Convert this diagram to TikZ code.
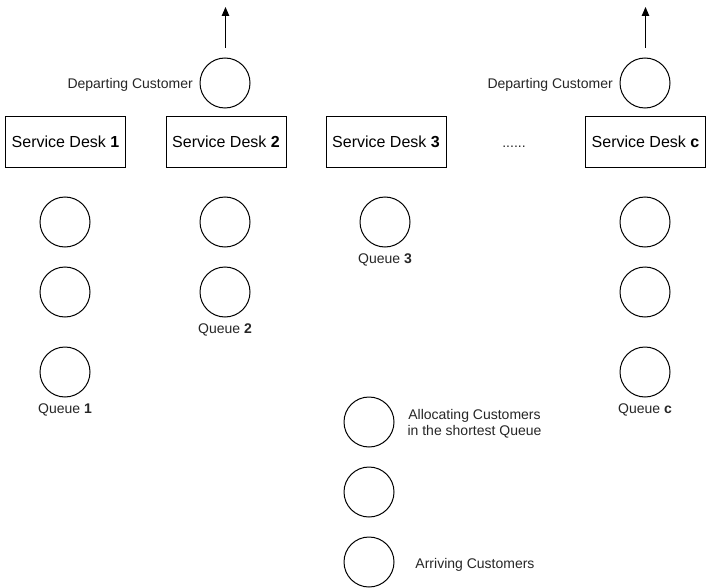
\documentclass[tikz,border=0pt]{standalone}
\usepackage{fontspec}
\setmainfont{Liberation Sans}
\usetikzlibrary{arrows.meta}
\begin{document}
\begin{tikzpicture}[x=1pt,y=-1pt,
  desk/.style={draw, line width=1pt, minimum width=120pt, minimum height=50pt, inner sep=0pt, font=\fontsize{16}{19}\selectfont},
  cust/.style={draw, circle, line width=1pt, minimum size=50pt, inner sep=0pt},
  lbl/.style={font=\fontsize{14}{16.5}\selectfont, inner sep=0pt, text=black!85, yshift=-1.5pt},
  arr/.style={line width=1pt, -{Triangle[length=9pt,width=7.5pt]}}]
\useasboundingbox (0,0) rectangle (711,588);
% desks
\node[desk] (d1) at (65.5,142) {Service Desk \textbf{1}};
\node[desk] (d2) at (226,142) {Service Desk \textbf{2}};
\node[desk] (d3) at (386,142) {Service Desk \textbf{3}};
\node[desk] (dc) at (645.5,142) {Service Desk \textbf{c}};
\node[lbl] (dots) at (514,145) {......};
% departing
\node[cust] (dep2) at (225,83) {};
\node[cust] (depc) at (645,83) {};
\node[lbl, anchor=east] (dl2) at (193,83) {Departing Customer};
\node[lbl, anchor=east] (dlc) at (613,83) {Departing Customer};
\coordinate (a2s) at (225.5,48);
\coordinate (a2e) at (225.5,7);
\coordinate (acs) at (645.5,48);
\coordinate (ace) at (645.5,7);
\draw[arr] (a2s) -- (a2e);
\draw[arr] (acs) -- (ace);
% queue 1
\node[cust] (q11) at (65,222) {};
\node[cust] (q12) at (65,292) {};
\node[cust] (q13) at (65,372) {};
\node[lbl] (ql1) at (65,408) {Queue \textbf{1}};
% queue 2
\node[cust] (q21) at (225,222) {};
\node[cust] (q22) at (225,292) {};
\node[lbl] (ql2) at (225,328) {Queue \textbf{2}};
% queue 3
\node[cust] (q31) at (385,222) {};
\node[lbl] (ql3) at (385,258) {Queue \textbf{3}};
% queue c
\node[cust] (qc1) at (645,222) {};
\node[cust] (qc2) at (645,292) {};
\node[cust] (qc3) at (645,372) {};
\node[lbl] (qlc) at (645,408) {Queue \textbf{c}};
% bottom
\node[cust] (b1) at (369,422) {};
\node[cust] (b2) at (369,492) {};
\node[cust] (b3) at (369,562) {};
\node[lbl, align=center] (bl1) at (474.5,422) {Allocating Customers\\in the shortest Queue};
\node[lbl] (bl3) at (475,563) {Arriving Customers};
\end{tikzpicture}
\end{document}
